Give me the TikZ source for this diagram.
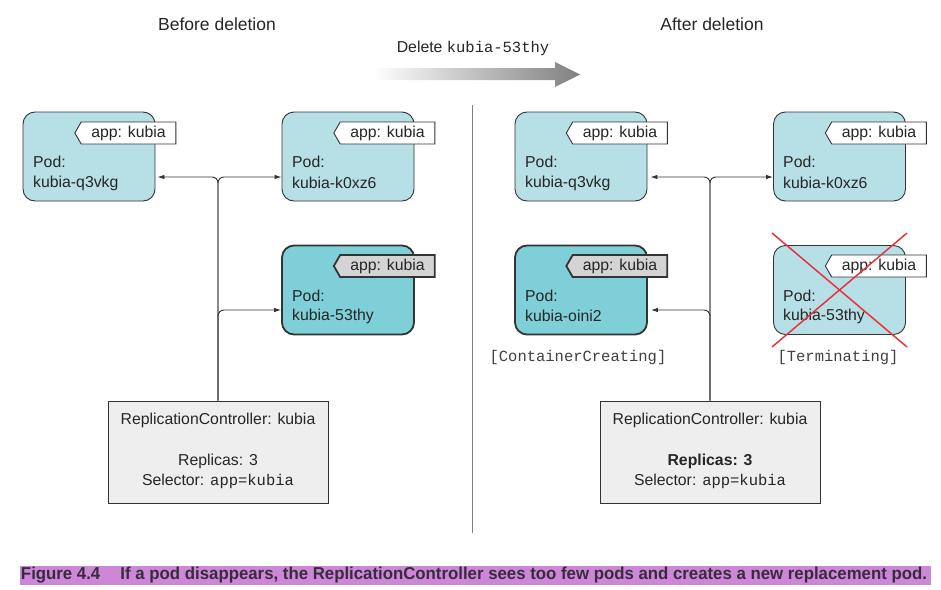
\documentclass[tikz,border=0pt]{standalone}
\usepackage{fontspec}
\setmainfont{Liberation Sans}
\setmonofont{Liberation Mono}
\usetikzlibrary{arrows.meta,shapes.symbols,calc}
\definecolor{podlight}{HTML}{B6E0E5}
\definecolor{poddark}{HTML}{7ECFD8}
\definecolor{linec}{HTML}{333333}
\definecolor{rcfill}{HTML}{EEEEEE}
\definecolor{taggray}{HTML}{D4D4D4}
\definecolor{capband}{HTML}{CC88D6}
\definecolor{captext}{HTML}{3A2A40}
\definecolor{xred}{HTML}{E8333F}
\begin{document}
\begin{tikzpicture}[x=1pt,y=-1pt,
  every node/.style={font=\fontsize{15.8}{18}\selectfont, text=black!85},
  pod/.style={draw=linec, line width=0.9pt, fill=podlight, rounded corners=12pt, minimum width=132pt, minimum height=89pt, inner sep=0pt},
  podnew/.style={pod, fill=poddark, line width=1.8pt},
  tag/.style={signal, signal to=west, signal from=nowhere, signal pointer angle=120, draw=linec, line width=0.9pt, fill=white, minimum width=101pt, minimum height=22pt, inner sep=1pt},
  tagnew/.style={tag, fill=taggray, line width=1.8pt},
  podtxt/.style={anchor=west, inner sep=0pt},
  rcbox/.style={draw=linec, line width=0.9pt, fill=rcfill, minimum width=220pt, minimum height=102pt, inner sep=0pt},
  conn/.style={draw=linec, line width=0.9pt, rounded corners=6pt, -{Latex[length=7pt,width=4.5pt]}},
  mono/.style={font=\fontsize{15.5}{18}\ttfamily, text=black!75},
  title/.style={font=\fontsize{17.5}{20}\selectfont}
]
\useasboundingbox (0,0) rectangle (941,589);

% titles
\node[title] (tBefore) at (217,24) {Before deletion};
\node[title] (tAfter) at (712,24) {After deletion};

% delete arrow
\node (tDel) at (473,48) {Delete \texttt{\fontsize{15.5}{18}\selectfont kubia-53thy}};
\shade[left color=white, right color=black!50, draw=none]
  (373,68) -- (555,68) -- (555,62) -- (580,74.5) -- (555,87) -- (555,80) -- (373,80) -- cycle;

% divider
\draw[black!50, line width=0.9pt] (472,105) -- (472,533);

% ---------- left side ----------
\node[pod] (pA) at (89,156.5) {};
\node[pod] (pB) at (348,156.5) {};
\node[podnew] (pC) at (348,290) {};
\node[tag] (tgA) at (128.5,133) {app: kubia};
\node[tag] (tgB) at (387.5,133) {app: kubia};
\node[tagnew] (tgC) at (387.5,266) {app: kubia};
\node[podtxt] (pAt1) at (33,162) {Pod:};
\node[podtxt] (pAt2) at (33,183) {kubia-q3vkg};
\node[podtxt] (pBt1) at (292,162) {Pod:};
\node[podtxt] (pBt2) at (292,183) {kubia-k0xz6};
\node[podtxt] (pCt1) at (292,296) {Pod:};
\node[podtxt] (pCt2) at (292,316) {kubia-53thy};

\node[rcbox] (rcL) at (218,452) {};
\node (rcL1) at (218,420) {ReplicationController: kubia};
\node (rcL2) at (218,461) {Replicas: 3};
\node (rcL3) at (218,481) {Selector: \texttt{\fontsize{15.5}{18}\selectfont app=kubia}};

\coordinate (eA) at ($(pA.east)+(2,0)$);
\draw[conn] (rcL.north) |- (eA |- 0,177);
\draw[conn] (rcL.north) |- (pB.west |- 0,177);
\draw[conn] (rcL.north) |- (pC.west |- 0,310);

% ---------- right side ----------
\node[pod] (qA) at (581,156.5) {};
\node[pod] (qB) at (839.5,156.5) {};
\node[podnew] (qN) at (581,290) {};
\node[pod] (qT) at (839.5,290) {};
\node[tag] (ugA) at (620,133) {app: kubia};
\node[tag] (ugB) at (879,133) {app: kubia};
\node[tagnew] (ugN) at (620,266) {app: kubia};
\node[tag] (ugT) at (879,266) {app: kubia};
\node[podtxt] (qAt1) at (525,162) {Pod:};
\node[podtxt] (qAt2) at (525,183) {kubia-q3vkg};
\node[podtxt] (qBt1) at (783,162) {Pod:};
\node[podtxt] (qBt2) at (783,183) {kubia-k0xz6};
\node[podtxt] (qNt1) at (525,296) {Pod:};
\node[podtxt] (qNt2) at (525,316) {kubia-oini2};
\node[podtxt] (qTt1) at (783,296) {Pod:};
\node[podtxt] (qTt2) at (783,316) {kubia-53thy};

\node[mono] (sCC) at (578,357) {[ContainerCreating]};
\node[mono] (sTm) at (838,357) {[Terminating]};

\draw[xred, line width=1.5pt] ($(qT.north west)+(-1,-12)$) -- ($(qT.south east)+(1,12)$);
\draw[xred, line width=1.5pt] ($(qT.north east)+(1,-12)$) -- ($(qT.south west)+(-1,12)$);

\node[rcbox] (rcR) at (710,452) {};
\node (rcR1) at (710,420) {ReplicationController: kubia};
\node (rcR2) at (710,461) {\bfseries Replicas: 3};
\node (rcR3) at (710,481) {Selector: \texttt{\fontsize{15.5}{18}\selectfont app=kubia}};

\coordinate (eqA) at ($(qA.east)+(3,0)$);
\coordinate (eqN) at ($(qN.east)+(3,0)$);
\draw[conn] (rcR.north) |- (eqA |- 0,177);
\draw[conn] (rcR.north) |- (qB.west |- 0,177);
\draw[conn] (rcR.north) |- (eqN |- 0,310);

% ---------- caption ----------
\node[fill=capband, minimum width=911pt, minimum height=19pt, inner sep=0pt] (cap) at (475,575.5) {};
\node[text=captext, inner sep=0pt] (capt) at (474,575.5)
  {\resizebox{906pt}{12.5pt}{\fontsize{15}{17}\selectfont\bfseries Figure 4.4\hspace{1.2em}If a pod disappears, the ReplicationController sees too few pods and creates a new replacement pod.}};
\end{tikzpicture}
\end{document}
